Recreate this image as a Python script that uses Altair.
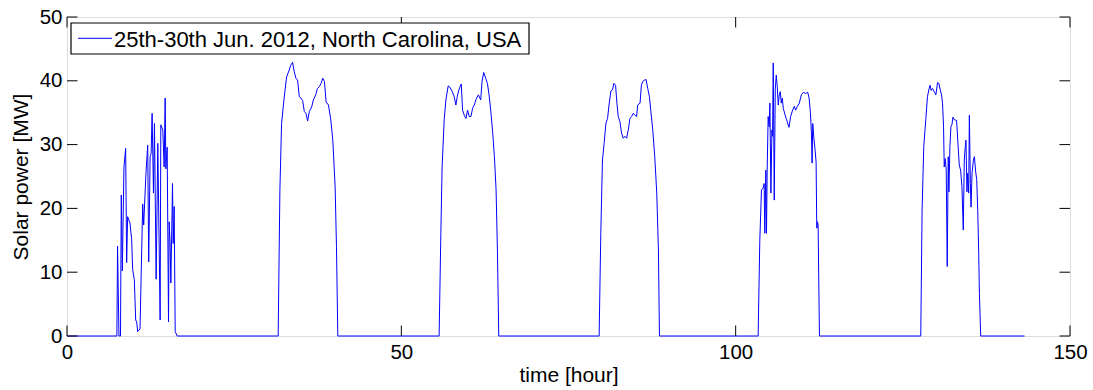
import altair as alt
import pandas as pd

series_name = "25th-30th Jun. 2012, North Carolina, USA"

day1_t = [0, 7.46, 7.56, 7.77, 8.0, 8.12, 8.27, 8.52, 8.77, 8.92, 9.07, 9.42, 9.67, 9.82, 10.07, 10.27, 10.42, 10.57, 10.92, 11.32, 11.47, 11.8, 12.07, 12.22, 12.43, 12.58, 12.73, 12.93, 13.08, 13.33, 13.58, 13.93, 14.03, 14.33, 14.53, 14.68, 14.78, 14.98, 15.18, 15.28, 15.43, 15.53, 15.78, 15.88, 16.03, 16.18, 16.48]
day1_p = [0, 0, 14.1, 0, 0, 22.1, 10.2, 26.5, 29.4, 11.5, 18.7, 17.7, 15.1, 10.4, 8.8, 2.5, 2.2, 0.7, 1.1, 20.7, 17.4, 25.3, 29.9, 11.6, 28.1, 28.6, 34.9, 22.4, 33.3, 8.9, 30.2, 2.5, 33.1, 32.3, 26.5, 37.3, 26.2, 29.6, 2.2, 17.9, 14.0, 8.3, 23.9, 14.5, 20.3, 0.7, 0]

day2_t = [31.58, 31.84, 32.09, 32.44, 32.84, 33.24, 33.44, 33.74, 33.99, 34.24, 34.49, 34.74, 34.99, 35.24, 35.49, 35.74, 35.99, 36.24, 36.59, 36.84, 37.2, 37.45, 37.75, 38.0, 38.25, 38.5, 38.75, 39.1, 39.45, 39.75, 40.1, 40.3, 40.5]
day2_p = [0, 22.9, 33.3, 37.0, 40.6, 41.7, 42.4, 42.9, 41.4, 40.4, 40.1, 37.5, 37.3, 36.9, 35.2, 34.9, 33.7, 35.2, 35.9, 37.0, 37.8, 38.8, 39.1, 39.6, 40.4, 39.9, 36.7, 36.2, 33.9, 30.7, 23.4, 14.0, 0]

day3_t = [55.65, 55.91, 56.1, 56.41, 56.66, 57.01, 57.26, 57.61, 57.91, 58.16, 58.36, 58.61, 58.76, 58.96, 59.16, 59.41, 59.66, 59.91, 60.16, 60.41, 60.66, 60.91, 61.17, 61.52, 61.87, 62.07, 62.32, 62.62, 62.87, 63.12, 63.37, 63.67, 63.92, 64.17, 64.37, 64.57]
day3_p = [0, 16.1, 26.5, 33.9, 37.0, 39.2, 39.0, 38.3, 37.5, 36.2, 37.5, 38.6, 39.0, 39.5, 35.4, 34.6, 34.1, 35.4, 34.4, 34.4, 35.7, 36.2, 37.1, 37.8, 37.0, 39.9, 41.3, 40.4, 39.6, 37.8, 35.4, 31.8, 28.1, 22.9, 13.5, 0]

day4_t = [79.58, 79.83, 80.08, 80.33, 80.59, 80.84, 81.09, 81.34, 81.59, 81.79, 82.04, 82.24, 82.44, 82.69, 82.94, 83.19, 83.44, 83.69, 83.94, 84.19, 84.44, 84.69, 84.94, 85.19, 85.34, 85.7, 85.9, 86.1, 86.35, 86.6, 86.85, 87.1, 87.3, 87.6, 87.9, 88.2, 88.45, 88.6]
day4_p = [0, 16.1, 27.6, 30.2, 33.3, 34.1, 36.5, 38.4, 38.6, 39.6, 39.3, 36.5, 34.4, 33.6, 31.8, 31.0, 31.3, 31.0, 32.3, 34.1, 34.4, 34.9, 34.6, 34.4, 36.2, 36.5, 39.3, 39.9, 40.1, 40.2, 38.8, 37.5, 35.4, 32.3, 28.1, 22.4, 13.5, 0]

day5_t = [103.36, 103.61, 103.86, 104.11, 104.26, 104.36, 104.51, 104.61, 104.71, 104.86, 105.01, 105.12, 105.27, 105.42, 105.52, 105.62, 105.77, 105.92, 106.07, 106.22, 106.37, 106.52, 106.67, 106.82, 106.97, 107.12, 107.37, 107.62, 107.97, 108.22, 108.52, 108.77, 108.97, 109.22, 109.52, 109.82, 110.13, 110.43, 110.78, 110.98, 111.18, 111.33, 111.43, 111.53, 111.68, 111.88, 112.03, 112.13, 112.23, 112.33, 112.53]
day5_p = [0, 15.0, 22.9, 23.2, 23.9, 16.1, 26.0, 16.1, 26.0, 34.4, 32.8, 36.5, 22.4, 32.3, 31.3, 42.8, 21.3, 38.6, 40.9, 39.1, 36.2, 37.8, 38.3, 36.5, 37.3, 35.7, 34.7, 33.9, 32.7, 34.4, 35.4, 36.0, 35.4, 36.0, 36.5, 37.8, 38.2, 38.0, 38.2, 37.3, 35.0, 31.8, 27.1, 33.3, 31.2, 29.1, 27.3, 16.9, 17.9, 17.4, 0]

day6_t = [127.68, 127.88, 128.13, 128.43, 128.68, 128.93, 129.08, 129.23, 129.44, 129.69, 129.94, 130.19, 130.39, 130.59, 130.79, 130.94, 131.09, 131.19, 131.34, 131.49, 131.64, 131.79, 131.89, 132.04, 132.19, 132.34, 132.49, 132.69, 133.04, 133.24, 133.44, 133.64, 133.84, 134.04, 134.19, 134.34, 134.44, 134.59, 134.69, 134.85, 134.95, 135.1, 135.2, 135.35, 135.55, 135.7, 135.9, 136.05, 136.2, 136.35, 136.45, 136.65, 143.2]
day6_p = [0, 19.7, 29.7, 33.9, 37.5, 38.8, 39.3, 38.5, 38.8, 38.3, 37.8, 39.7, 39.6, 38.6, 37.8, 36.4, 32.8, 26.5, 27.8, 26.0, 10.9, 28.1, 22.6, 29.7, 32.8, 33.1, 34.3, 33.9, 33.8, 30.2, 26.8, 26.0, 23.4, 16.6, 27.6, 29.7, 30.7, 22.6, 25.5, 22.4, 34.6, 23.9, 20.2, 25.5, 27.6, 28.1, 25.7, 24.5, 19.7, 12.9, 6.7, 0, 0]

x_ticks = [0, 50, 100, 150]
y_ticks = [0, 10, 20, 30, 40, 50]

frames = []
for t, p in [(day1_t, day1_p), (day2_t, day2_p), (day3_t, day3_p),
             (day4_t, day4_p), (day5_t, day5_p), (day6_t, day6_p)]:
    frames.append(pd.DataFrame({"time": t, "power": p}))
df = pd.concat(frames, ignore_index=True)

FONT = "Liberation Sans"
W, H = 1003, 319
TICK = 10.5

xscale = alt.Scale(domain=[0, 150], nice=False, zero=False)
yscale = alt.Scale(domain=[0, 50], nice=False, zero=False)

x_axis = alt.Axis(values=x_ticks, title="time [hour]", ticks=False, domain=False, grid=False,
                  labelPadding=6, labelFontSize=20.5, labelFont=FONT, labelColor="black",
                  labelFlush=False, labelOverlap=False,
                  titleFontSize=21, titleFont=FONT, titleFontWeight="normal", titleColor="black",
                  titleY=45, titleX=W / 2, titleBaseline="alphabetic", titleAlign="center")
y_axis = alt.Axis(values=y_ticks, title="Solar power [MW]", ticks=False, domain=False, grid=False,
                  labelPadding=5, labelFontSize=20.5, labelFont=FONT, labelColor="black",
                  labelFlush=False, labelOverlap=False,
                  titleFontSize=21, titleFont=FONT, titleFontWeight="normal", titleColor="black",
                  titleX=-39.5, titleY=H / 2, titleAngle=270, titleBaseline="alphabetic",
                  titleAlign="center")

line = alt.Chart(df).mark_line(color="#0000ff", strokeWidth=1).encode(
    x=alt.X("time:Q", scale=xscale, axis=x_axis),
    y=alt.Y("power:Q", scale=yscale, axis=y_axis),
)

xt = pd.DataFrame({"time": x_ticks})
yt = pd.DataFrame({"power": y_ticks})

tick_style = dict(color="black", strokeWidth=1)
left_ticks = alt.Chart(yt).mark_rule(**tick_style).encode(
    y=alt.Y("power:Q", scale=yscale, axis=y_axis), x=alt.value(0), x2=alt.value(TICK))
right_ticks = alt.Chart(yt).mark_rule(**tick_style).encode(
    y=alt.Y("power:Q", scale=yscale, axis=y_axis), x=alt.value(W - TICK), x2=alt.value(W))
bottom_ticks = alt.Chart(xt).mark_rule(**tick_style).encode(
    x=alt.X("time:Q", scale=xscale, axis=x_axis), y=alt.value(H - TICK), y2=alt.value(H))
top_ticks = alt.Chart(xt).mark_rule(**tick_style).encode(
    x=alt.X("time:Q", scale=xscale, axis=x_axis), y=alt.value(0), y2=alt.value(TICK))

leg = pd.DataFrame({"label": [series_name]})
legend_box = alt.Chart(leg).mark_rect(fill="white", stroke="black", strokeWidth=1.2).encode(
    x=alt.value(4), x2=alt.value(462), y=alt.value(6), y2=alt.value(37))
legend_line = alt.Chart(leg).mark_rule(color="#0000ff", strokeWidth=1).encode(
    x=alt.value(11), x2=alt.value(45), y=alt.value(21.3))
legend_text = alt.Chart(leg).mark_text(align="left", baseline="alphabetic", font=FONT,
                                       fontSize=22, color="black").encode(
    text="label:N", x=alt.value(47), y=alt.value(30.3))

chart = alt.layer(
    line, left_ticks, right_ticks, bottom_ticks, top_ticks,
    legend_box, legend_line, legend_text
).properties(
    width=W, height=H,
    padding={"left": 67, "top": 17, "right": 23, "bottom": 54},
    autosize=alt.AutoSizeParams(type="none"),
).configure_view(
    stroke="black", strokeWidth=1
).configure(
    background="white"
)

chart.save("out.html", embed_options={"renderer": "svg", "actions": False})
